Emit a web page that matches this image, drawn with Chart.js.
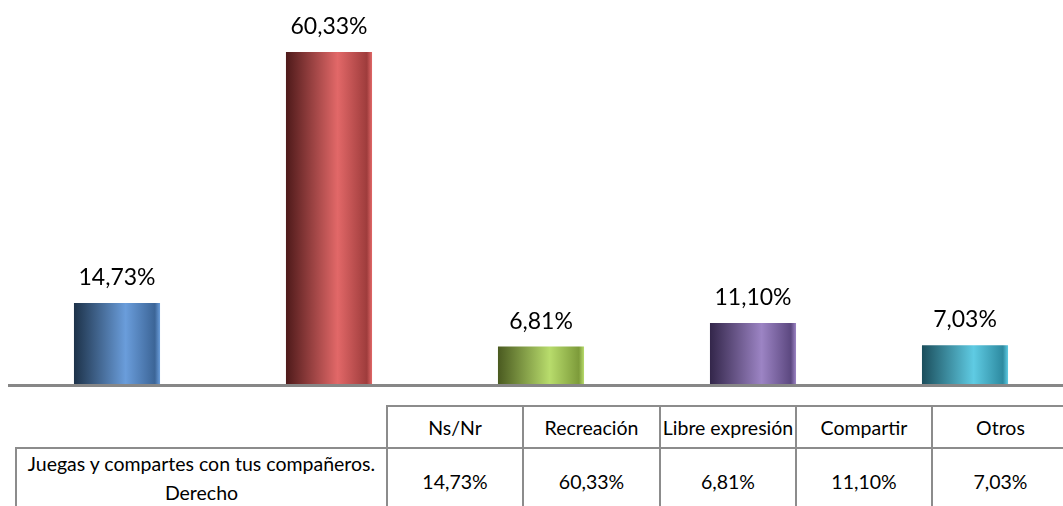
<!DOCTYPE html>
<html>
<head>
<meta charset="utf-8">
<script src="https://cdn.jsdelivr.net/npm/chart.js@4"></script>
<style>
  html, body { margin: 0; padding: 0; background: #fff; overflow: hidden; width: 1063px; height: 506px; }
  #wrap { position: relative; width: 1063px; height: 506px; overflow: hidden; }
  #mycanvas { position: absolute; left: 0; top: 0; }
  #tabla { position: absolute; left: 15px; top: 405px; width: 1053px; border-collapse: collapse; table-layout: fixed;
           font-family: Lato, sans-serif; font-size: 19.5px; font-weight: 400; color: #000; }
  #tabla td { border: 2px solid #8c8c8c; text-align: center; vertical-align: middle; padding: 0; font-weight: 400;
              white-space: nowrap; overflow: visible; }
  #tabla tr.cab td { height: 40px; }
  #tabla tr.fila td { height: 58px; }
  #tabla td.vacia { border-top: none; border-left: none; }
  #tabla td.nombre { line-height: 29px; padding-bottom: 6px; }
</style>
</head>
<body>
<div id="wrap">
  <canvas id="mycanvas" width="1071" height="388"></canvas>
  <table id="tabla">
    <colgroup>
      <col style="width:371px"><col style="width:136px"><col style="width:137px">
      <col style="width:136px"><col style="width:136px"><col style="width:137px">
    </colgroup>
    <tr class="cab" id="cabecera"><td class="vacia"></td></tr>
    <tr class="fila" id="valores"><td class="nombre">Juegas y compartes con tus compañeros.<br>Derecho</td></tr>
  </table>
</div>
<script>
var categorias = ['Ns/Nr', 'Recreación', 'Libre expresión', 'Compartir', 'Otros'];
var valores = [14.73, 60.33, 6.81, 11.10, 7.03];
var serie = 'Juegas y compartes con tus compañeros. Derecho';

// dark edge, highlight, right edge
var colores = [
	['#1d3249', '#6a9ddb', '#3c6597'],
	['#4e1a1a', '#e26868', '#9e3c3c'],
	['#4a5a20', '#b8dc6c', '#7d9b3a'],
	['#33264a', '#9c84c4', '#5c4880'],
	['#1b4e5c', '#5fcbe3', '#2d8aa0']
];

function fmt(v) {
	return v.toFixed(2).replace('.', ',') + '%';
}

// table below the chart
var cab = document.getElementById('cabecera');
var fil = document.getElementById('valores');
for (var i in categorias) {
	var td = document.createElement('td');
	td.textContent = categorias[i];
	cab.appendChild(td);
	var td2 = document.createElement('td');
	td2.textContent = fmt(valores[i]);
	fil.appendChild(td2);
}

var barPct = 0.406;

function degradado(context) {
	var chart = context.chart;
	var area = chart.chartArea;
	var i = context.dataIndex;
	var c = colores[i % colores.length];
	if (!area || !chart.scales.x) return c[1];
	var cx = chart.scales.x.getPixelForValue(i);
	var half = (chart.scales.x.width / categorias.length) * barPct / 2;
	var g = chart.ctx.createLinearGradient(cx - half, 0, cx + half, 0);
	g.addColorStop(0, c[0]);
	g.addColorStop(0.6, c[1]);
	g.addColorStop(0.94, c[2]);
	g.addColorStop(1, c[1]);
	return g;
}

var etiquetas = {
	id: 'etiquetas',
	afterDatasetsDraw: function(chart) {
		var ctx = chart.ctx;
		var meta = chart.getDatasetMeta(0);
		ctx.save();
		ctx.font = '23px Lato';
		ctx.fillStyle = '#000';
		ctx.textAlign = 'center';
		ctx.textBaseline = 'alphabetic';
		meta.data.forEach(function(bar, i) {
			ctx.fillText(fmt(valores[i]), bar.x, bar.y - 18);
		});
		ctx.restore();
	}
};

var ejeX = {
	id: 'ejeX',
	afterDatasetsDraw: function(chart) {
		var ctx = chart.ctx;
		ctx.save();
		ctx.fillStyle = '#878787';
		ctx.fillRect(8, chart.chartArea.bottom, chart.width, 3);
		ctx.restore();
	}
};

var ctx = document.getElementById('mycanvas');
var barGraph = new Chart(ctx, {
	type: 'bar',
	data: {
		labels: categorias,
		datasets: [{
			label: serie,
			data: valores,
			backgroundColor: degradado,
			borderWidth: 0,
			categoryPercentage: 1,
			barPercentage: barPct
		}]
	},
	options: {
		responsive: false,
		animation: false,
		devicePixelRatio: 1,
		layout: { padding: { left: 11, right: 0, top: 0, bottom: 4 } },
		plugins: { legend: { display: false }, tooltip: { enabled: false } },
		scales: {
			x: { display: false },
			y: { display: false, min: 0, max: 69.8 }
		}
	},
	plugins: [etiquetas, ejeX]
});
</script>
</body>
</html>
